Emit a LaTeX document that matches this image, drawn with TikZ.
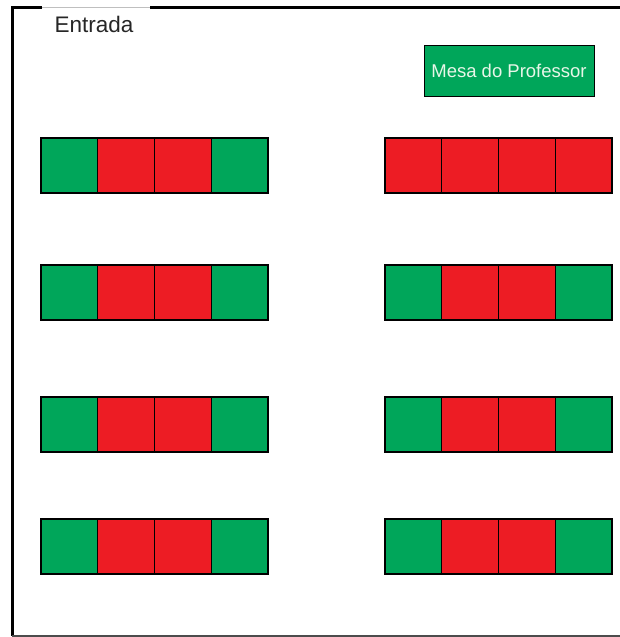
\documentclass[tikz,border=0pt]{standalone}
\usepackage{fontspec}
\setmainfont{Liberation Sans}
\definecolor{deskgreen}{RGB}{0,166,90}
\definecolor{deskred}{RGB}{237,28,36}
\definecolor{mesatext}{RGB}{232,246,232}
\begin{document}
\begin{tikzpicture}[x=1pt,y=-1pt,
  desk/.style={draw=black, line width=1.2pt, minimum width=56.75pt, minimum height=55pt,
    inner sep=0pt, outer sep=0pt, anchor=north west}]
\useasboundingbox (0,0) rectangle (620,637);

% Define coordinates
\coordinate (A) at (12,7);      % top left corner
\coordinate (B) at (12,636);    % bottom left corner
\coordinate (D1) at (42,7);     % door start
\coordinate (D2) at (150,7);    % door end
\coordinate (T) at (620,7);     % top wall end
\coordinate (C) at (620,636);   % bottom wall end

% Draw the walls
\draw[gray!50, line width=1pt] (D1) -- (D2); % door
\draw[line width=3pt] (D1) -- (A) -- (B);
\draw[line width=3pt] (D2) -- (T);
\draw[gray!60!black, line width=1.2pt] (B) -- (C);

% Labels
\node[anchor=base west, font=\fontsize{22.5}{26}\selectfont, text=black!85] (entrada) at (51,32) {Entrada};

% Teacher desk
\node[draw=black, line width=1pt, fill=deskgreen, minimum width=170pt, minimum height=51pt,
  inner sep=0pt, text=mesatext, font=\fontsize{18.5}{22}\selectfont] (mesa) at (509,70.5) {Mesa do Professor};

% Student desks, left block
\foreach \y [count=\r] in {138,265,397,519} {
  \foreach \c [count=\i] in {deskgreen,deskred,deskred,deskgreen}
    \node[desk, fill=\c] (L\r\i) at ({41+56.75*(\i-1)},\y) {};
}

% Student desks, right block
\foreach \y/\a [count=\r] in {138/deskred,265/deskgreen,397/deskgreen,519/deskgreen} {
  \foreach \c [count=\i] in {\a,deskred,deskred,\a}
    \node[desk, fill=\c] (R\r\i) at ({385+56.75*(\i-1)},\y) {};
}

\end{tikzpicture}
\end{document}
